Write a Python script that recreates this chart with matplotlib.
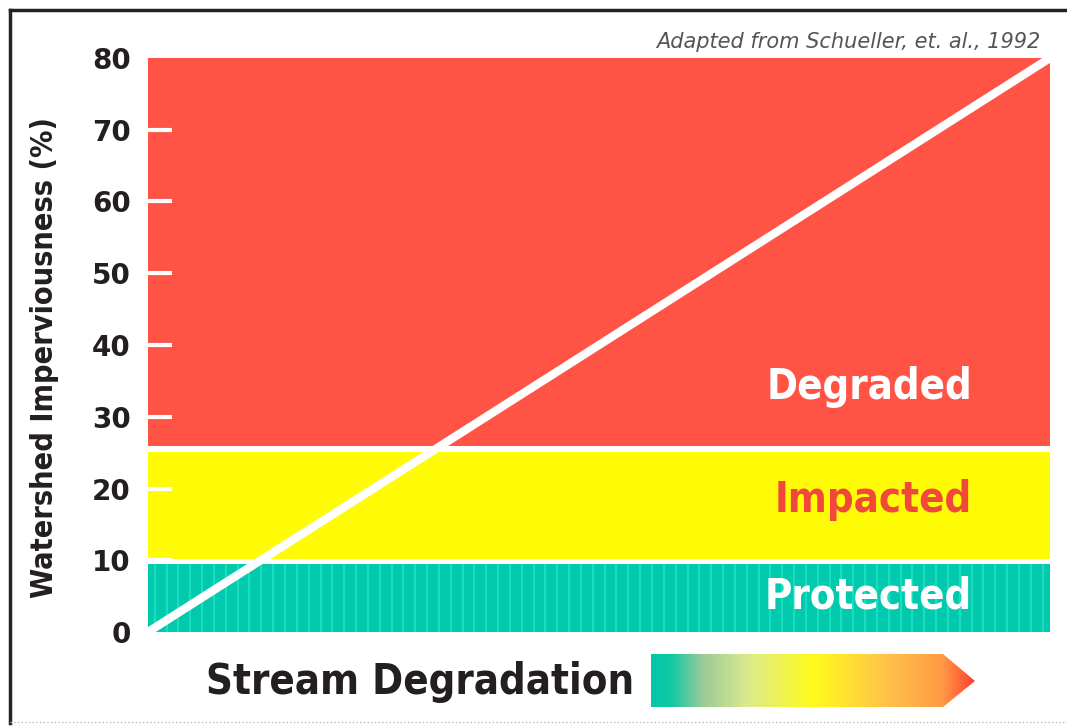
import numpy as np
import matplotlib
matplotlib.use("Agg")
import matplotlib.pyplot as plt
from matplotlib.colors import LinearSegmentedColormap
from matplotlib.patches import Polygon
from matplotlib.lines import Line2D

# data
y_ticks = [0, 10, 20, 30, 40, 50, 60, 70, 80]
zone_names = ["Protected", "Impacted", "Degraded"]
zone_lower = [0.0, 10.2, 25.9]
zone_upper = [9.5, 25.1, 80.0]
zone_colors = ["#00C9AE", "#FFFA05", "#FE5345"]
label_colors = ["white", "#F2473B", "white"]
label_y = [5.0, 18.4, 34.1]
trend_x = [0, 80]
trend_y = [0, 80]

NARROW = ["DejaVu Sans", "Liberation Sans"]
TEXT_DARK = "#231F20"

fig = plt.figure(figsize=(10.67, 7.26), dpi=100)
ax = fig.add_axes([148 / 1067, 94 / 726, 902 / 1067, 574 / 726])
ax.set_xlim(0, 80)
ax.set_ylim(0, 80)

for lo, hi, col in zip(zone_lower, zone_upper, zone_colors):
    ax.fill_between([0, 80], lo, hi, color=col, linewidth=0, zorder=1)

# faint vertical stripes in the protected band
stripe_x = np.arange(0.6, 80, 1.05)
ax.vlines(stripe_x, zone_lower[0], zone_upper[0], color="#1ADDBD",
          linewidth=1.6, zorder=1.5)

ax.plot(trend_x, trend_y, color="white", linewidth=6, solid_capstyle="butt",
        zorder=3)

for name, y, col in zip(zone_names, label_y, label_colors):
    ax.text(73.1, y, name, ha="right", va="center", color=col, fontsize=30,
            fontweight="bold", family=NARROW, fontstretch="condensed",
            zorder=4)

ax.set_xticks([])
ax.set_yticks(y_ticks)
ax.tick_params(axis="y", direction="in", length=17, width=3, color="white",
               pad=12.5, labelsize=20, labelcolor=TEXT_DARK)
ticks = ax.yaxis.get_major_ticks()
ticks[0].tick1line.set_visible(False)
ticks[-1].tick1line.set_visible(False)
for lab in ax.get_yticklabels():
    lab.set_fontweight("bold")
for spine in ax.spines.values():
    spine.set_visible(False)

fig.text(45 / 1067, 1 - 357 / 726, "Watershed Imperviousness (%)", rotation=90,
         ha="center", va="center", fontsize=22, fontweight="bold",
         color=TEXT_DARK, family=NARROW, fontstretch="condensed")

fig.text(1040 / 1067, 1 - 42 / 726, "Adapted from Schueller, et. al., 1992",
         ha="right", va="center", fontsize=15, style="italic", color="#555555")

fig.text(420 / 1067, 1 - 682 / 726, "Stream Degradation", ha="center",
         va="center", fontsize=30, fontweight="bold", color=TEXT_DARK,
         family=NARROW, fontstretch="condensed")

# gradient arrow
gax = fig.add_axes([0, 0, 1, 1])
gax.set_xlim(0, 1067)
gax.set_ylim(726, 0)
gax.axis("off")
grad = LinearSegmentedColormap.from_list(
    "degradation",
    [(0.0, "#00C9A8"), (0.06, "#10C8A4"), (0.16, "#9CCB98"), (0.3, "#DDEA8C"),
     (0.5, "#FFFB1A"), (0.72, "#FFC548"), (0.9, "#FF9A45"), (1.0, "#FF4030")])
arrow = Polygon([(651, 654), (943, 654), (975, 681), (943, 707), (651, 707)],
                closed=True, facecolor="none", edgecolor="none")
gax.add_patch(arrow)
img = gax.imshow(np.linspace(0, 1, 256)[None, :], cmap=grad, aspect="auto",
                 extent=(651, 975, 707, 654), interpolation="bilinear")
img.set_clip_path(arrow)

# outer frame
fig.add_artist(Line2D([10 / 1067, 10 / 1067], [3 / 726, 1 - 10 / 726],
                      transform=fig.transFigure, color="#222222", linewidth=2.5))
fig.add_artist(Line2D([10 / 1067, 1.0], [1 - 10 / 726, 1 - 10 / 726],
                      transform=fig.transFigure, color="#222222", linewidth=2.5))
fig.add_artist(Line2D([10 / 1067, 1.0], [4 / 726, 4 / 726],
                      transform=fig.transFigure, color="#BBBBBB", linewidth=1,
                      linestyle=":"))

fig.savefig("out.png", dpi=100, facecolor="white")
